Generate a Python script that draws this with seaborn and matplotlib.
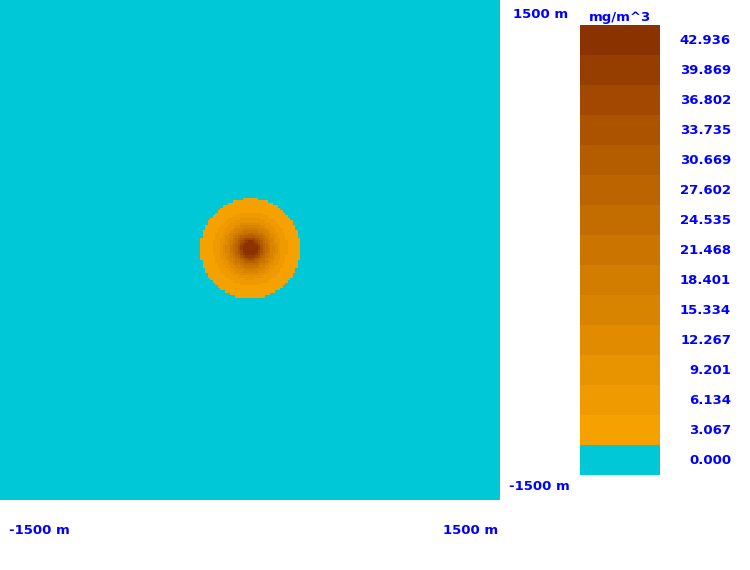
import numpy as np
import seaborn as sns
import matplotlib.pyplot as plt
from matplotlib.colors import ListedColormap

# colour scale levels (mg/m^3), bottom to top
levels = [0.000, 3.067, 6.134, 9.201, 12.267, 15.334, 18.401, 21.468,
          24.535, 27.602, 30.669, 33.735, 36.802, 39.869, 42.936]
# distance from source (m) where concentration drops to each level
level_radius_m = [300, 222, 186, 162, 144, 126, 114, 102, 90, 81, 72, 63, 54, 45]
source_xy = (0, 10)
extent_m = 1500
cell_m = 15

band_colors = ["#00c8d6",
               "#f5a200", "#ee9a00", "#e89300", "#e08b00", "#d98400",
               "#d27c00", "#cb7500", "#c36c00", "#bc6400", "#b45c00",
               "#ac5300", "#a24800", "#963d00", "#8b3300"]

# build the concentration band grid (row 0 = north edge)
centers = np.arange(-extent_m + cell_m / 2, extent_m, cell_m)
xx, yy = np.meshgrid(centers, centers[::-1])
r = np.hypot(xx - source_xy[0], yy - source_xy[1])
band = np.zeros_like(r, dtype=int)
for rad in level_radius_m:
    band += (r <= rad).astype(int)

cmap = ListedColormap(band_colors)
blue = "#0000ff"
fnt = dict(color=blue, fontsize=9.5, fontweight="bold", family="DejaVu Sans")

fig = plt.figure(figsize=(7.5, 5.7), dpi=100)
W, H = 750, 570

ax = fig.add_axes([0, (H - 500) / H, 500 / W, 500 / H])
sns.heatmap(band, ax=ax, cmap=cmap, vmin=-0.5, vmax=len(band_colors) - 0.5,
            cbar=False, xticklabels=False, yticklabels=False)
ax.set_xlabel("")
ax.set_ylabel("")

# colour bar drawn as a one-column heatmap
cb = fig.add_axes([580 / W, (H - 475) / H, 80 / W, 450 / H])
col = np.arange(len(levels))[::-1].reshape(-1, 1)
sns.heatmap(col, ax=cb, cmap=cmap, vmin=-0.5, vmax=len(band_colors) - 0.5,
            cbar=False, xticklabels=False, yticklabels=False)
for i, v in enumerate(levels[::-1]):
    cb.text(1 + 71 / 80, i + 0.5, f"{v:.3f}", ha="right", va="center", **fnt)
cb.text(0.5, -0.05, "mg/m^3", ha="center", va="bottom", **fnt)

fig.text(541 / W, 1 - 15 / H, "1500 m", ha="center", va="center", **fnt)
fig.text(539 / W, 1 - 486 / H, "-1500 m", ha="center", va="center", **fnt)
fig.text(39 / W, 1 - 530 / H, "-1500 m", ha="center", va="center", **fnt)
fig.text(471 / W, 1 - 530 / H, "1500 m", ha="center", va="center", **fnt)

fig.savefig("out.png", dpi=100)
